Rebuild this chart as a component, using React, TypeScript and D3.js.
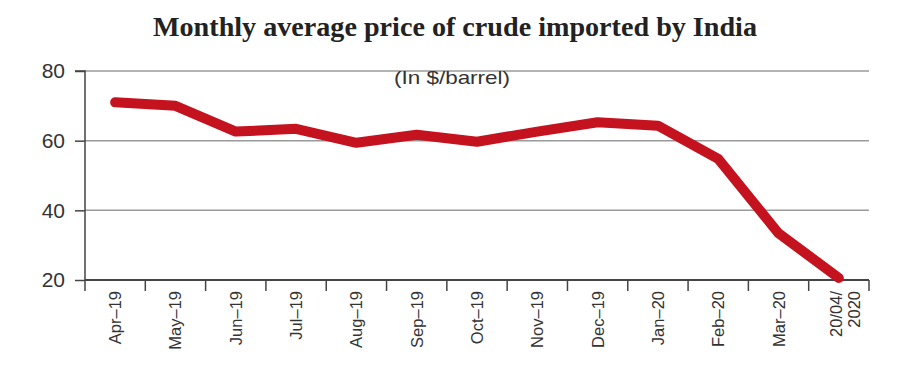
import { useEffect, useRef } from "react";
import * as d3 from "d3";

const months = [
  "Apr–19", "May–19", "Jun–19", "Jul–19", "Aug–19", "Sep–19", "Oct–19",
  "Nov–19", "Dec–19", "Jan–20", "Feb–20", "Mar–20", "20/04/2020",
];
const prices = [71.0, 70.0, 62.6, 63.4, 59.4, 61.7, 59.7, 62.6, 65.3, 64.3, 54.8, 33.4, 20.6];
const yTicks = [20, 40, 60, 80];

const W = 906;
const H = 365;

export default function App() {
  const svgRef = useRef<SVGSVGElement | null>(null);

  useEffect(() => {
    const svg = d3.select(svgRef.current);
    svg.selectAll("*").remove();

    const margin = { top: 71, right: 37, bottom: 85, left: 85 };

    const x = d3
      .scaleBand<string>()
      .domain(months)
      .range([margin.left, W - margin.right]);

    const y = d3
      .scaleLinear()
      .domain([20, 80])
      .range([H - margin.bottom, margin.top]);

    // title
    svg
      .append("text")
      .attr("x", 455)
      .attr("y", 36)
      .attr("text-anchor", "middle")
      .attr("font-family", "'Liberation Serif', 'DejaVu Serif', serif")
      .attr("font-weight", "bold")
      .attr("font-size", "27px")
      .attr("fill", "#222")
      .attr("textLength", 604)
      .attr("lengthAdjust", "spacingAndGlyphs")
      .text("Monthly average price of crude imported by India");

    // grid lines
    svg
      .append("g")
      .selectAll("line")
      .data(yTicks.slice(1))
      .join("line")
      .attr("x1", margin.left)
      .attr("x2", W - margin.right)
      .attr("y1", (d) => y(d))
      .attr("y2", (d) => y(d))
      .attr("stroke", "#9a9a9a")
      .attr("stroke-width", 1.5);

    // subtitle
    svg
      .append("text")
      .attr("x", 452)
      .attr("y", 84)
      .attr("text-anchor", "middle")
      .attr("font-family", "'Liberation Sans', Arial, sans-serif")
      .attr("font-size", "19px")
      .attr("fill", "#333")
      .attr("textLength", 116)
      .attr("lengthAdjust", "spacingAndGlyphs")
      .text("(In $/barrel)");

    // y axis
    const yAxis = svg
      .append("g")
      .attr("transform", `translate(${margin.left},0)`)
      .call(d3.axisLeft(y).tickValues(yTicks).tickSize(10).tickPadding(10));
    yAxis.select(".domain").attr("stroke", "#444").attr("stroke-width", 1.5).attr("d", `M-10,${y(80)}H0V${y(20)}`);
    yAxis.selectAll(".tick line").attr("stroke", "#444").attr("stroke-width", 1.5);
    yAxis
      .selectAll(".tick text")
      .attr("font-family", "'Liberation Sans', Arial, sans-serif")
      .attr("font-size", "21px")
      .attr("fill", "#333");

    // x axis
    const x0 = margin.left;
    const x1 = W - margin.right;
    const base = y(20);
    const xAxis = svg.append("g");
    xAxis
      .append("line")
      .attr("x1", x0)
      .attr("x2", x1)
      .attr("y1", base)
      .attr("y2", base)
      .attr("stroke", "#444")
      .attr("stroke-width", 2);
    const bounds = months.map((m) => x(m) as number).concat([x1]);
    xAxis
      .selectAll("line.tick")
      .data(bounds)
      .join("line")
      .attr("class", "tick")
      .attr("x1", (d) => d)
      .attr("x2", (d) => d)
      .attr("y1", base)
      .attr("y2", base + 11)
      .attr("stroke", "#444")
      .attr("stroke-width", 1.5);

    const bw = x.bandwidth();
    months.forEach((m, i) => {
      const cx = (x(m) as number) + bw / 2;
      const lines = i === months.length - 1 ? ["20/04/", "2020"] : [m];
      const offs = lines.length === 2 ? [-3, 15] : [0];
      lines.forEach((t, j) => {
        svg
          .append("text")
          .attr("transform", `translate(${cx + offs[j]},${base + 11}) rotate(-90)`)
          .attr("text-anchor", "end")
          .attr("dominant-baseline", "central")
          .attr("font-family", "'Liberation Sans', Arial, sans-serif")
          .attr("font-size", "16.5px")
          .attr("fill", "#333")
          .text(t);
      });
    });

    // line
    const line = d3
      .line<number>()
      .x((_, i) => (x(months[i]) as number) + bw / 2)
      .y((d) => y(d));

    svg
      .append("path")
      .datum(prices)
      .attr("fill", "none")
      .attr("stroke", "#c4121f")
      .attr("stroke-width", 10)
      .attr("stroke-linejoin", "round")
      .attr("stroke-linecap", "round")
      .attr("d", line);
  }, []);

  return (
    <svg
      ref={svgRef}
      width={W}
      height={H}
      style={{ position: "absolute", left: 0, top: 0, background: "#fff" }}
    ></svg>
  );
}
